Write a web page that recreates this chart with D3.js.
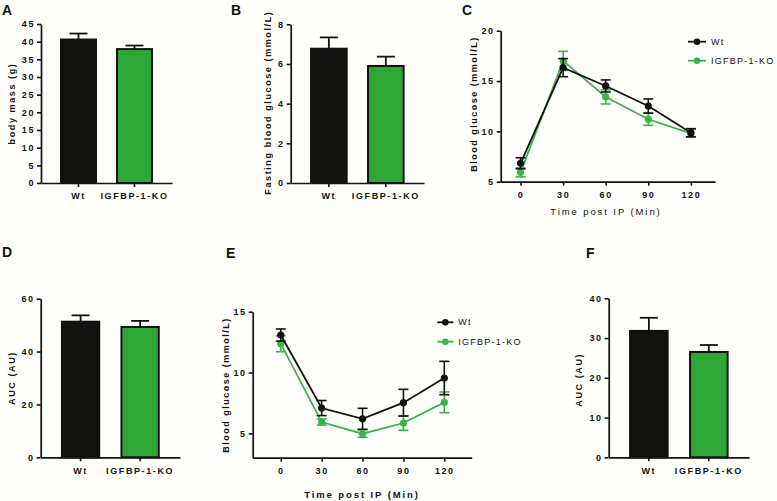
<!DOCTYPE html>
<html><head><meta charset="utf-8">
<script src="https://cdn.jsdelivr.net/npm/d3@7"></script>
<style>html,body{margin:0;padding:0;background:#fefefb;}svg{display:block;}</style>
</head><body>
<script>
// ---------- DATA ----------
const categories = ["Wt", "IGFBP-1-KO"];
const bodyMass = [40.6, 37.9];
const bodyMassErr = [1.7, 1.0];
const fastingGlucose = [6.77, 5.9];
const fastingGlucoseErr = [0.57, 0.47];
const gttAUC = [51.3, 49.3];
const gttAUCErr = [2.4, 2.3];
const ittAUC = [31.8, 26.5];
const ittAUCErr = [3.3, 1.75];

const timePoints = [0, 30, 60, 90, 120];
const gttWt = [6.83, 16.33, 14.51, 12.52, 9.87];
const gttWtErr = [0.55, 0.9, 0.6, 0.7, 0.4];
const gttKO = [5.93, 17.0, 13.42, 11.2, 9.81];
const gttKOErr = [0.45, 0.95, 0.7, 0.6, 0.4];
const ittWt = [13.08, 7.08, 6.2, 7.52, 9.55];
const ittWtErr = [0.5, 0.62, 0.86, 1.1, 1.37];
const ittKO = [12.37, 5.93, 4.97, 5.85, 7.55];
const ittKOErr = [0.66, 0.25, 0.3, 0.6, 0.85];

const ticksA = [0, 5, 10, 15, 20, 25, 30, 35, 40, 45];
const ticksB = [0, 2, 4, 6, 8];
const ticksC = [5, 10, 15, 20];
const ticksD = [0, 20, 40, 60];
const ticksE = [5, 10, 15];
const ticksF = [0, 10, 20, 30, 40];

// ---------- STYLE ----------
const W = 777, H = 501;
const BLACK = "#121210", GREEN_BAR = "#2fa737", GREEN_LINE = "#3ab449";
const FONT = "'Liberation Sans', Arial, Helvetica, sans-serif";

const svg = d3.select("body").append("svg").attr("width", W).attr("height", H);
svg.append("rect").attr("width", W).attr("height", H).attr("fill", "#fefefb");

function styleAxis(g, bold) {
  g.selectAll("path.domain").attr("stroke", "#111").attr("stroke-width", 1.7);
  g.selectAll(".tick line").attr("stroke", "#111").attr("stroke-width", 1.6);
  g.selectAll(".tick text")
    .attr("fill", "#111")
    .style("font-family", FONT)
    .style("font-size", "9px")
    .style("font-weight", bold ? "bold" : "normal")
    .style("letter-spacing", "1.6px");
}

function txt(x, y, s, opts) {
  opts = opts || {};
  const t = svg.append("text")
    .attr("x", x).attr("y", y)
    .attr("fill", "#111")
    .attr("text-anchor", opts.anchor || "start")
    .style("font-family", FONT)
    .style("font-size", (opts.size || 9) + "px")
    .style("font-weight", opts.bold ? "bold" : "normal")
    .style("letter-spacing", (opts.ls == null ? 1.6 : opts.ls) + "px")
    .text(s);
  if (opts.rotate) t.attr("transform", `rotate(-90,${x},${y})`);
  if (opts.mid) t.attr("dominant-baseline", "central");
  return t;
}

function panelLetter(x, y, s) {
  txt(x, y, s, { size: 14, bold: true, ls: 0 });
}

function barPanel(p) {
  const x = d3.scaleBand().domain(categories).range([p.x0, p.x1]).paddingInner(0.34).paddingOuter(0.34);
  const y = d3.scaleLinear().domain([0, p.ymax]).range([p.yb, p.yt]);
  const g = svg.append("g");
  const fills = [BLACK, GREEN_BAR];
  // error bars (upper only)
  categories.forEach((c, i) => {
    const cx = x(c) + x.bandwidth() / 2;
    g.append("line").attr("x1", cx).attr("x2", cx)
      .attr("y1", y(p.values[i])).attr("y2", y(p.values[i] + p.errs[i]))
      .attr("stroke", "#111").attr("stroke-width", 1.8);
    g.append("line").attr("x1", cx - 9).attr("x2", cx + 9)
      .attr("y1", y(p.values[i] + p.errs[i])).attr("y2", y(p.values[i] + p.errs[i]))
      .attr("stroke", "#111").attr("stroke-width", 1.8);
  });
  g.selectAll("rect.bar").data(categories).join("rect")
    .attr("x", c => x(c) + 1).attr("width", x.bandwidth() - 2)
    .attr("y", (c, i) => y(p.values[i])).attr("height", (c, i) => y(0) - y(p.values[i]))
    .attr("fill", (c, i) => fills[i]).attr("stroke", "#111").attr("stroke-width", 2);
  const ya = svg.append("g").attr("transform", `translate(${p.x0},0)`)
    .call(d3.axisLeft(y).tickValues(p.ticks).tickSize(4).tickSizeOuter(0).tickPadding(2).tickFormat(d3.format("d")));
  styleAxis(ya, true);
  const xa = svg.append("g").attr("transform", `translate(0,${p.yb})`)
    .call(d3.axisBottom(x).tickSize(4).tickSizeOuter(0).tickPadding(6));
  styleAxis(xa, true);
  txt(p.labelX, (p.yt + p.yb) / 2 + p.labelDy, p.label, { anchor: "middle", rotate: true, bold: true, mid: true });
}

function linePanel(p) {
  const x = d3.scaleLinear().domain(p.xdom).range([p.x0, p.x1]);
  const y = d3.scaleLinear().domain(p.ydom).range([p.yb, p.yt]);
  const series = [
    { name: categories[1], vals: p.ko, errs: p.koErr, color: GREEN_LINE },
    { name: categories[0], vals: p.wt, errs: p.wtErr, color: "#111" }
  ];
  const line = d3.line().x((d, i) => x(timePoints[i])).y(d => y(d));
  series.forEach(s => {
    const g = svg.append("g");
    g.append("path").datum(s.vals).attr("d", line).attr("fill", "none")
      .attr("stroke", s.color).attr("stroke-width", 1.8);
    s.vals.forEach((v, i) => {
      const cx = x(timePoints[i]);
      const lo = y(v - s.errs[i]), hi = y(v + s.errs[i]);
      g.append("line").attr("x1", cx).attr("x2", cx).attr("y1", lo).attr("y2", hi)
        .attr("stroke", s.color).attr("stroke-width", 1.6);
      [lo, hi].forEach(yy => g.append("line").attr("x1", cx - 5).attr("x2", cx + 5)
        .attr("y1", yy).attr("y2", yy).attr("stroke", s.color).attr("stroke-width", 1.6));
      g.append("circle").attr("cx", cx).attr("cy", y(v)).attr("r", 3.6).attr("fill", s.color);
    });
  });
  const ya = svg.append("g").attr("transform", `translate(${p.x0},0)`)
    .call(d3.axisLeft(y).tickValues(p.ticks).tickSize(4).tickSizeOuter(0).tickPadding(2).tickFormat(d3.format("d")));
  styleAxis(ya, true);
  const xa = svg.append("g").attr("transform", `translate(0,${p.yb})`)
    .call(d3.axisBottom(x).tickValues(timePoints).tickSize(4).tickSizeOuter(0).tickPadding(6).tickFormat(d3.format("d")));
  styleAxis(xa, true);
  txt(p.ylabX, p.ylabY, "Blood glucose (mmol/L)", { anchor: "middle", rotate: true, bold: true, mid: true, ls: 1.5 });
  txt(p.xlabX, p.xlabY, "Time post IP (Min)", { anchor: "middle", bold: p.xlabBold, ls: 1.9, size: 9.5 });
  // legend
  [[categories[0], "#111", p.legY[0]], [categories[1], GREEN_LINE, p.legY[1]]].forEach(([name, col, ly]) => {
    svg.append("line").attr("x1", p.legX).attr("x2", p.legX + p.legLen).attr("y1", ly).attr("y2", ly)
      .attr("stroke", col).attr("stroke-width", 1.8);
    svg.append("circle").attr("cx", p.legX + p.legLen / 2).attr("cy", ly).attr("r", 3.3).attr("fill", col);
    txt(p.legX + p.legLen + 5, ly, name, { mid: true, size: 9, ls: 1.25 });
  });
}

// ---------- PANELS ----------
panelLetter(2, 15, "A");
barPanel({ x0: 41, x1: 172, yb: 183, yt: 24, ymax: 45, ticks: ticksA, values: bodyMass, errs: bodyMassErr,
  label: "body mass (g)", labelX: 12, labelDy: 0 });

panelLetter(231, 15, "B");
barPanel({ x0: 290.7, x1: 424, yb: 183, yt: 24.3, ymax: 8, ticks: ticksB, values: fastingGlucose, errs: fastingGlucoseErr,
  label: "Fasting blood glucose (mmol/L)", labelX: 268, labelDy: -1 });

panelLetter(462, 15, "C");
linePanel({ xdom: [-14, 137], x0: 500.7, x1: 715, ydom: [5, 20], yb: 181.7, yt: 30.7, ticks: ticksC,
  wt: gttWt, wtErr: gttWtErr, ko: gttKO, koErr: gttKOErr,
  ylabX: 474, ylabY: 104, xlabX: 606, xlabY: 215, xlabBold: false,
  legX: 688, legLen: 18, legY: [41.7, 60.7] });

panelLetter(2, 257, "D");
barPanel({ x0: 40.7, x1: 180, yb: 457.3, yt: 298.7, ymax: 60, ticks: ticksD, values: gttAUC, errs: gttAUCErr,
  label: "AUC (AU)", labelX: 12, labelDy: 0 });

panelLetter(226, 258, "E");
linePanel({ xdom: [-20.6, 140.1], x0: 252.7, x1: 471.7, ydom: [3, 15], yb: 457.7, yt: 311.7, ticks: ticksE,
  wt: ittWt, wtErr: ittWtErr, ko: ittKO, koErr: ittKOErr,
  ylabX: 226, ylabY: 385, xlabX: 362, xlabY: 497.5, xlabBold: true,
  legX: 437.3, legLen: 16, legY: [322.3, 341.7] });

panelLetter(586, 258, "F");
barPanel({ x0: 608.7, x1: 749, yb: 457.3, yt: 298.3, ymax: 40, ticks: ticksF, values: ittAUC, errs: ittAUCErr,
  label: "AUC (AU)", labelX: 579.3, labelDy: 2 });
</script>
</body></html>
